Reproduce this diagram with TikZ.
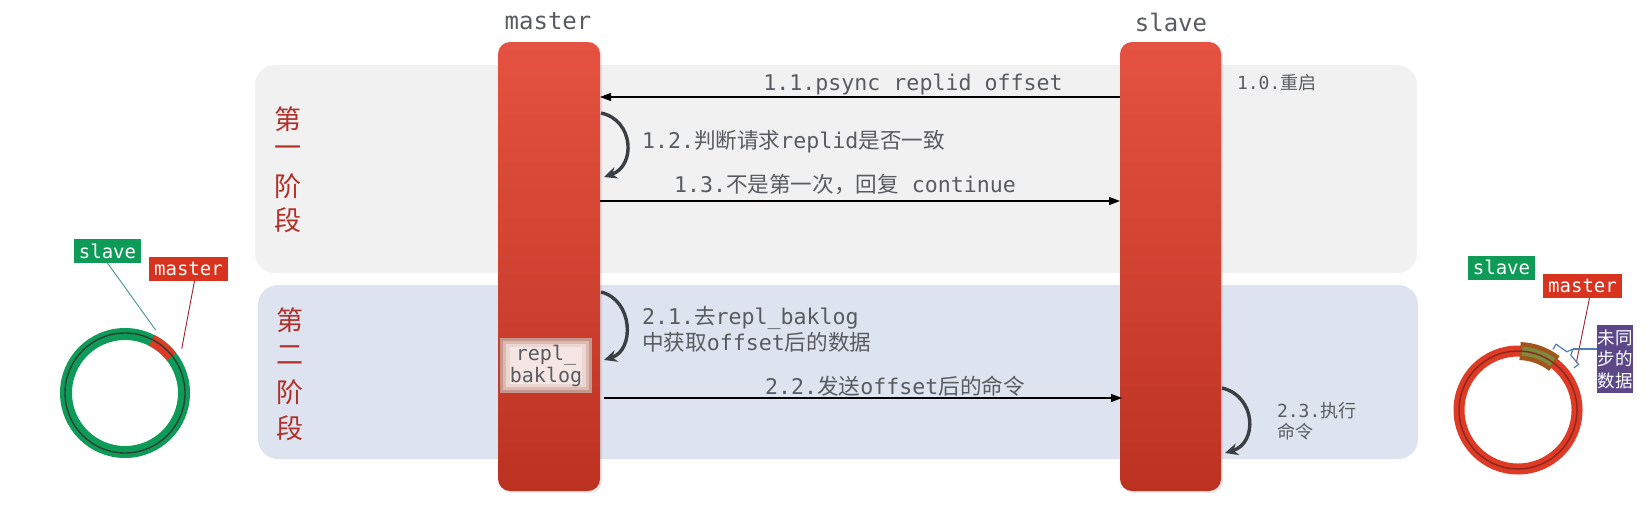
\documentclass[tikz,border=0pt]{standalone}
\usepackage{fontspec}
\setmonofont{DejaVu Sans Mono}
\newfontfamily\cjk{Noto Sans CJK SC}
\usetikzlibrary{arrows.meta,shadows}
\definecolor{txt}{HTML}{585C60}
\definecolor{panelA}{HTML}{F1F1F1}
\definecolor{panelB}{HTML}{DDE4EF}
\definecolor{bartop}{HTML}{E55241}
\definecolor{barbot}{HTML}{BC3221}
\definecolor{stage}{HTML}{B0302A}
\definecolor{loopc}{HTML}{3A3F44}
\definecolor{rgreen}{HTML}{0E9A57}
\definecolor{rred}{HTML}{DE3A25}
\definecolor{rdark}{HTML}{2E3F36}
\definecolor{rdarkr}{HTML}{8C2A20}
\definecolor{lblred}{HTML}{D8331E}
\definecolor{purp}{HTML}{5C4886}
\definecolor{brc}{HTML}{4F7FB5}
\definecolor{segbrown}{HTML}{A3541A}
\definecolor{segolive}{HTML}{7E8A3E}
\definecolor{rbA}{RGB}{196,150,140}
\definecolor{rbB}{RGB}{220,185,177}
\definecolor{rbC}{RGB}{236,214,209}
\definecolor{rbD}{RGB}{245,230,227}
\definecolor{slline}{RGB}{70,150,140}
\definecolor{msline}{RGB}{160,32,48}
\newcommand{\zh}[1]{{\cjk #1}}
\tikzset{
  panel/.style={rectangle, rounded corners=20pt, draw=none},
  bar/.style={rectangle, rounded corners=12pt, top color=bartop, bottom color=barbot, draw=none,
    drop shadow={opacity=0.18, shadow xshift=2pt, shadow yshift=-2pt}},
  head/.style={font=\ttfamily\fontsize{24}{24}\selectfont, text=txt},
  mono/.style={font=\ttfamily\fontsize{21.6}{26}\selectfont, text=txt},
  small/.style={font=\ttfamily\fontsize{18}{22}\selectfont, text=txt, align=left},
  stagech/.style={font=\cjk\fontsize{27}{27}\selectfont, text=stage},
  msg/.style={-{Triangle[length=11pt,width=8pt]}, line width=1.1pt, black},
  loopar/.style={-{Stealth[length=13pt,width=12pt]}, line width=3.4pt, loopc},
  tag/.style={font=\ttfamily\fontsize{19}{19}\selectfont, text=white, inner xsep=5pt, minimum height=24pt},
}
\begin{document}
\begin{tikzpicture}[x=1pt,y=-1pt, every node/.style={inner sep=0pt, outer sep=0pt}]
\useasboundingbox[fill=white] (0,0) rectangle (1648,509);

% panels
\node[panel, fill=panelA, minimum width=1162pt, minimum height=208pt] (p1) at (836,169) {};
\node[panel, fill=panelB, minimum width=1160pt, minimum height=174pt] (p2) at (838,372) {};

% stage labels
\node[stagech] (s1a) at (288,119) {第};
\node[stagech] (s1b) at (288,152) {一};
\node[stagech] (s1c) at (288,186) {阶};
\node[stagech] (s1d) at (288,220) {段};
\node[stagech] (s2a) at (290,320) {第};
\node[stagech] (s2b) at (290,355) {二};
\node[stagech] (s2c) at (290,392) {阶};
\node[stagech] (s2d) at (290,428) {段};

% bars
\node[bar, minimum width=102pt, minimum height=449pt] (master) at (549,266.5) {};
\node[bar, minimum width=101pt, minimum height=449pt] (slave) at (1170.5,266.5) {};
\node[head] (mhead) at (548,21) {master};
\node[head] (shead) at (1171,22) {slave};

% phase 1
\coordinate (y11) at (0,97);
\draw[msg] (slave.west |- y11) -- (master.east |- y11);
\node[mono] (t11) at (913,84) {1.1.psync replid offset};
\node[small, anchor=west] (t10) at (1237,83) {1.0.\zh{重启}};

\coordinate (l12a) at (601,113);
\coordinate (l12b) at (604,177);
\draw[loopar] (l12a) .. controls (634,120) and (636,166) .. (l12b);
\node[mono, anchor=west] (t12) at (642,142) {1.2.\zh{判断请求}replid\zh{是否一致}};

\coordinate (y13) at (0,201);
\draw[msg] (master.east |- y13) -- (slave.west |- y13);
\node[mono] (t13) at (845,185) {1.3.\zh{不是第一次，回复} continue};

% phase 2
\coordinate (l21a) at (601,292);
\coordinate (l21b) at (604,360);
\draw[loopar] (l21a) .. controls (633,300) and (635,350) .. (l21b);
\node[mono, anchor=west, align=left] (t21) at (642,329) {2.1.\zh{去}repl\_baklog\\\zh{中获取}offset\zh{后的数据}};

\coordinate (y22) at (0,398);
\draw[msg] ([xshift=4pt]master.east |- y22) -- ([xshift=2pt]slave.west |- y22);
\node[mono] (t22) at (895,386) {2.2.\zh{发送}offset\zh{后的命令}};

\coordinate (l23a) at (1222,388);
\coordinate (l23b) at (1225,453);
\draw[loopar] (l23a) .. controls (1256,396) and (1258,443) .. (l23b);
\node[small, anchor=west] (t23) at (1277,421) {2.3.\zh{执行}\\[-1pt]\zh{命令}};

% repl_baklog box
\node[rectangle, minimum width=92pt, minimum height=55pt] (rb) at (546,365.5) {};
\fill[rbA] (rb.north west) rectangle (rb.south east);
\fill[rbB] ([xshift=3pt,yshift=-3pt]rb.north west) rectangle ([xshift=-3pt,yshift=3pt]rb.south east);
\fill[rbC] ([xshift=6pt,yshift=-6pt]rb.north west) rectangle ([xshift=-6pt,yshift=6pt]rb.south east);
\fill[rbD] ([xshift=10pt,yshift=-9pt]rb.north west) rectangle ([xshift=-10pt,yshift=9pt]rb.south east);
\node[font=\ttfamily\fontsize{20}{22}\selectfont, text=txt, align=center] (rbt) at (rb) {repl\_\\baklog};

% left ring
\coordinate (lc) at (125,393);
\draw[line width=12pt, rgreen] (lc) circle[radius=59];
\draw[line width=12pt, rred] (lc) ++(-38:59) arc[start angle=-38, end angle=-63, radius=59];
\draw[line width=1.4pt, rdark] (lc) circle[radius=60];
\node[tag, fill=rgreen] (lsl) at (107.5,251) {slave};
\node[tag, fill=lblred] (lms) at (188.5,269) {master};
\draw[line width=0.9pt, slline] (lsl.south) -- ([shift={(-64:70)}]lc);
\draw[line width=0.9pt, msline] ([xshift=6pt]lms.south) -- ([shift={(-38:72)}]lc);

% right ring
\coordinate (rc) at (1518,410);
\draw[line width=11pt, rred] (rc) circle[radius=59];
\draw[line width=18pt, segbrown] (rc) ++(-52:59) arc[start angle=-52, end angle=-88, radius=59];
\draw[line width=9pt, segolive] (rc) ++(-54:59) arc[start angle=-54, end angle=-86, radius=59];
\draw[line width=1.5pt, rdarkr] (rc) circle[radius=59];
\node[tag, fill=rgreen] (rsl) at (1501.5,267.5) {slave};
\node[tag, fill=lblred] (rms) at (1582.5,286) {master};
\node[fill=purp, text=white, font=\cjk\fontsize{17.5}{21.5}\selectfont, align=center, minimum width=36pt, minimum height=68pt] (unsync) at (1615,359) {未同\\步的\\数据};
\draw[line width=0.9pt, msline] ([xshift=7pt]rms.south) -- ([shift={(-39:75)}]rc);
\coordinate (tip) at ([shift={(-48:82)}]rc);
\draw[line width=1.2pt, brc, line join=round]
  ([shift={(-60:70)}]rc) -- ([shift={(-60:76)}]rc) -- ([shift={(-50:76)}]rc) -- (tip)
  -- ([shift={(-46:76)}]rc) -- ([shift={(-37:76)}]rc) -- ([shift={(-37:70)}]rc);
\draw[line width=1.2pt, brc] (tip) -- (unsync.west |- tip);
\end{tikzpicture}
\end{document}
